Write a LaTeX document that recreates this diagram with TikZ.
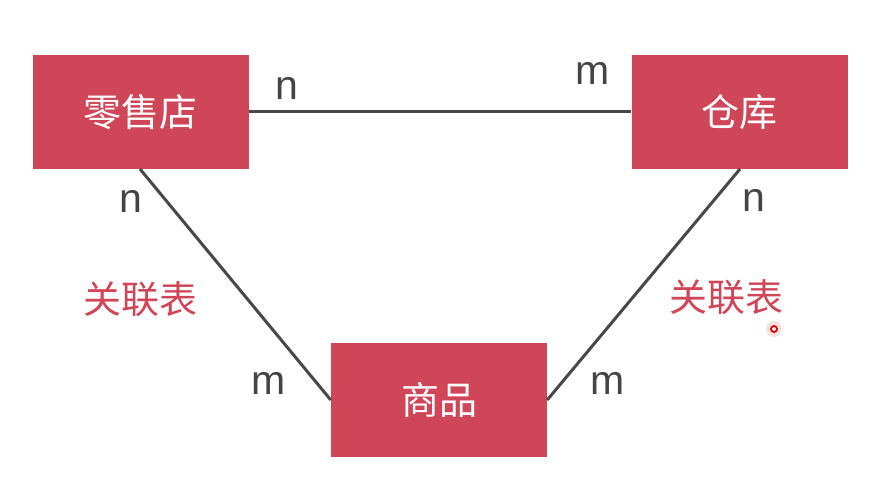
\documentclass[tikz,border=0pt]{standalone}
\usepackage{fontspec}
\setmainfont{Liberation Sans}
\newfontfamily\cjk{Noto Sans CJK SC}
\definecolor{boxred}{RGB}{207,70,88}
\definecolor{linegray}{RGB}{72,72,72}
\definecolor{labgray}{RGB}{68,68,68}
\begin{document}
\begin{tikzpicture}[x=1pt,y=1pt,
  entity/.style={fill=boxred,draw=none,minimum width=216pt,minimum height=114pt,inner sep=0pt,text=white,font=\cjk\fontsize{38}{41}\selectfont},
  card/.style={text=labgray,font=\fontsize{41}{44}\selectfont,anchor=base,inner sep=0pt},
  assoc/.style={text=boxred,font=\cjk\fontsize{38}{41}\selectfont,inner sep=0pt},
  conn/.style={draw=linegray,line width=3pt}]
\useasboundingbox (0,0) rectangle (891,500);
\fill[white] (0,0) rectangle (891,500);
\node[entity] (shop) at (140.5,388) {零售店};
\node[entity] (wh) at (739.5,388) {仓库};
\node[entity] (goods) at (439,100) {商品};
\coordinate (shopb) at (140,331);
\coordinate (whb) at (740,331);
\draw[conn] (shop.east) -- (wh.west);
\draw[conn] (shopb) -- (goods.west);
\draw[conn] (whb) -- (goods.east);
\node[card] (n1) at (287,400) {n};
\node[card] (m1) at (593,415) {m};
\node[card] (n2) at (130.5,287) {n};
\node[card] (n3) at (754,288) {n};
\node[card] (m2) at (269,105) {m};
\node[card] (m3) at (608,105) {m};
\node[assoc] (a1) at (140,201) {关联表};
\node[assoc] (a2) at (726,203) {关联表};
\fill[red!20,opacity=0.6] (774,171) circle (8);
\draw[red!85!black,line width=1.8pt,fill=white] (774,171) circle (3);
\end{tikzpicture}
\end{document}
